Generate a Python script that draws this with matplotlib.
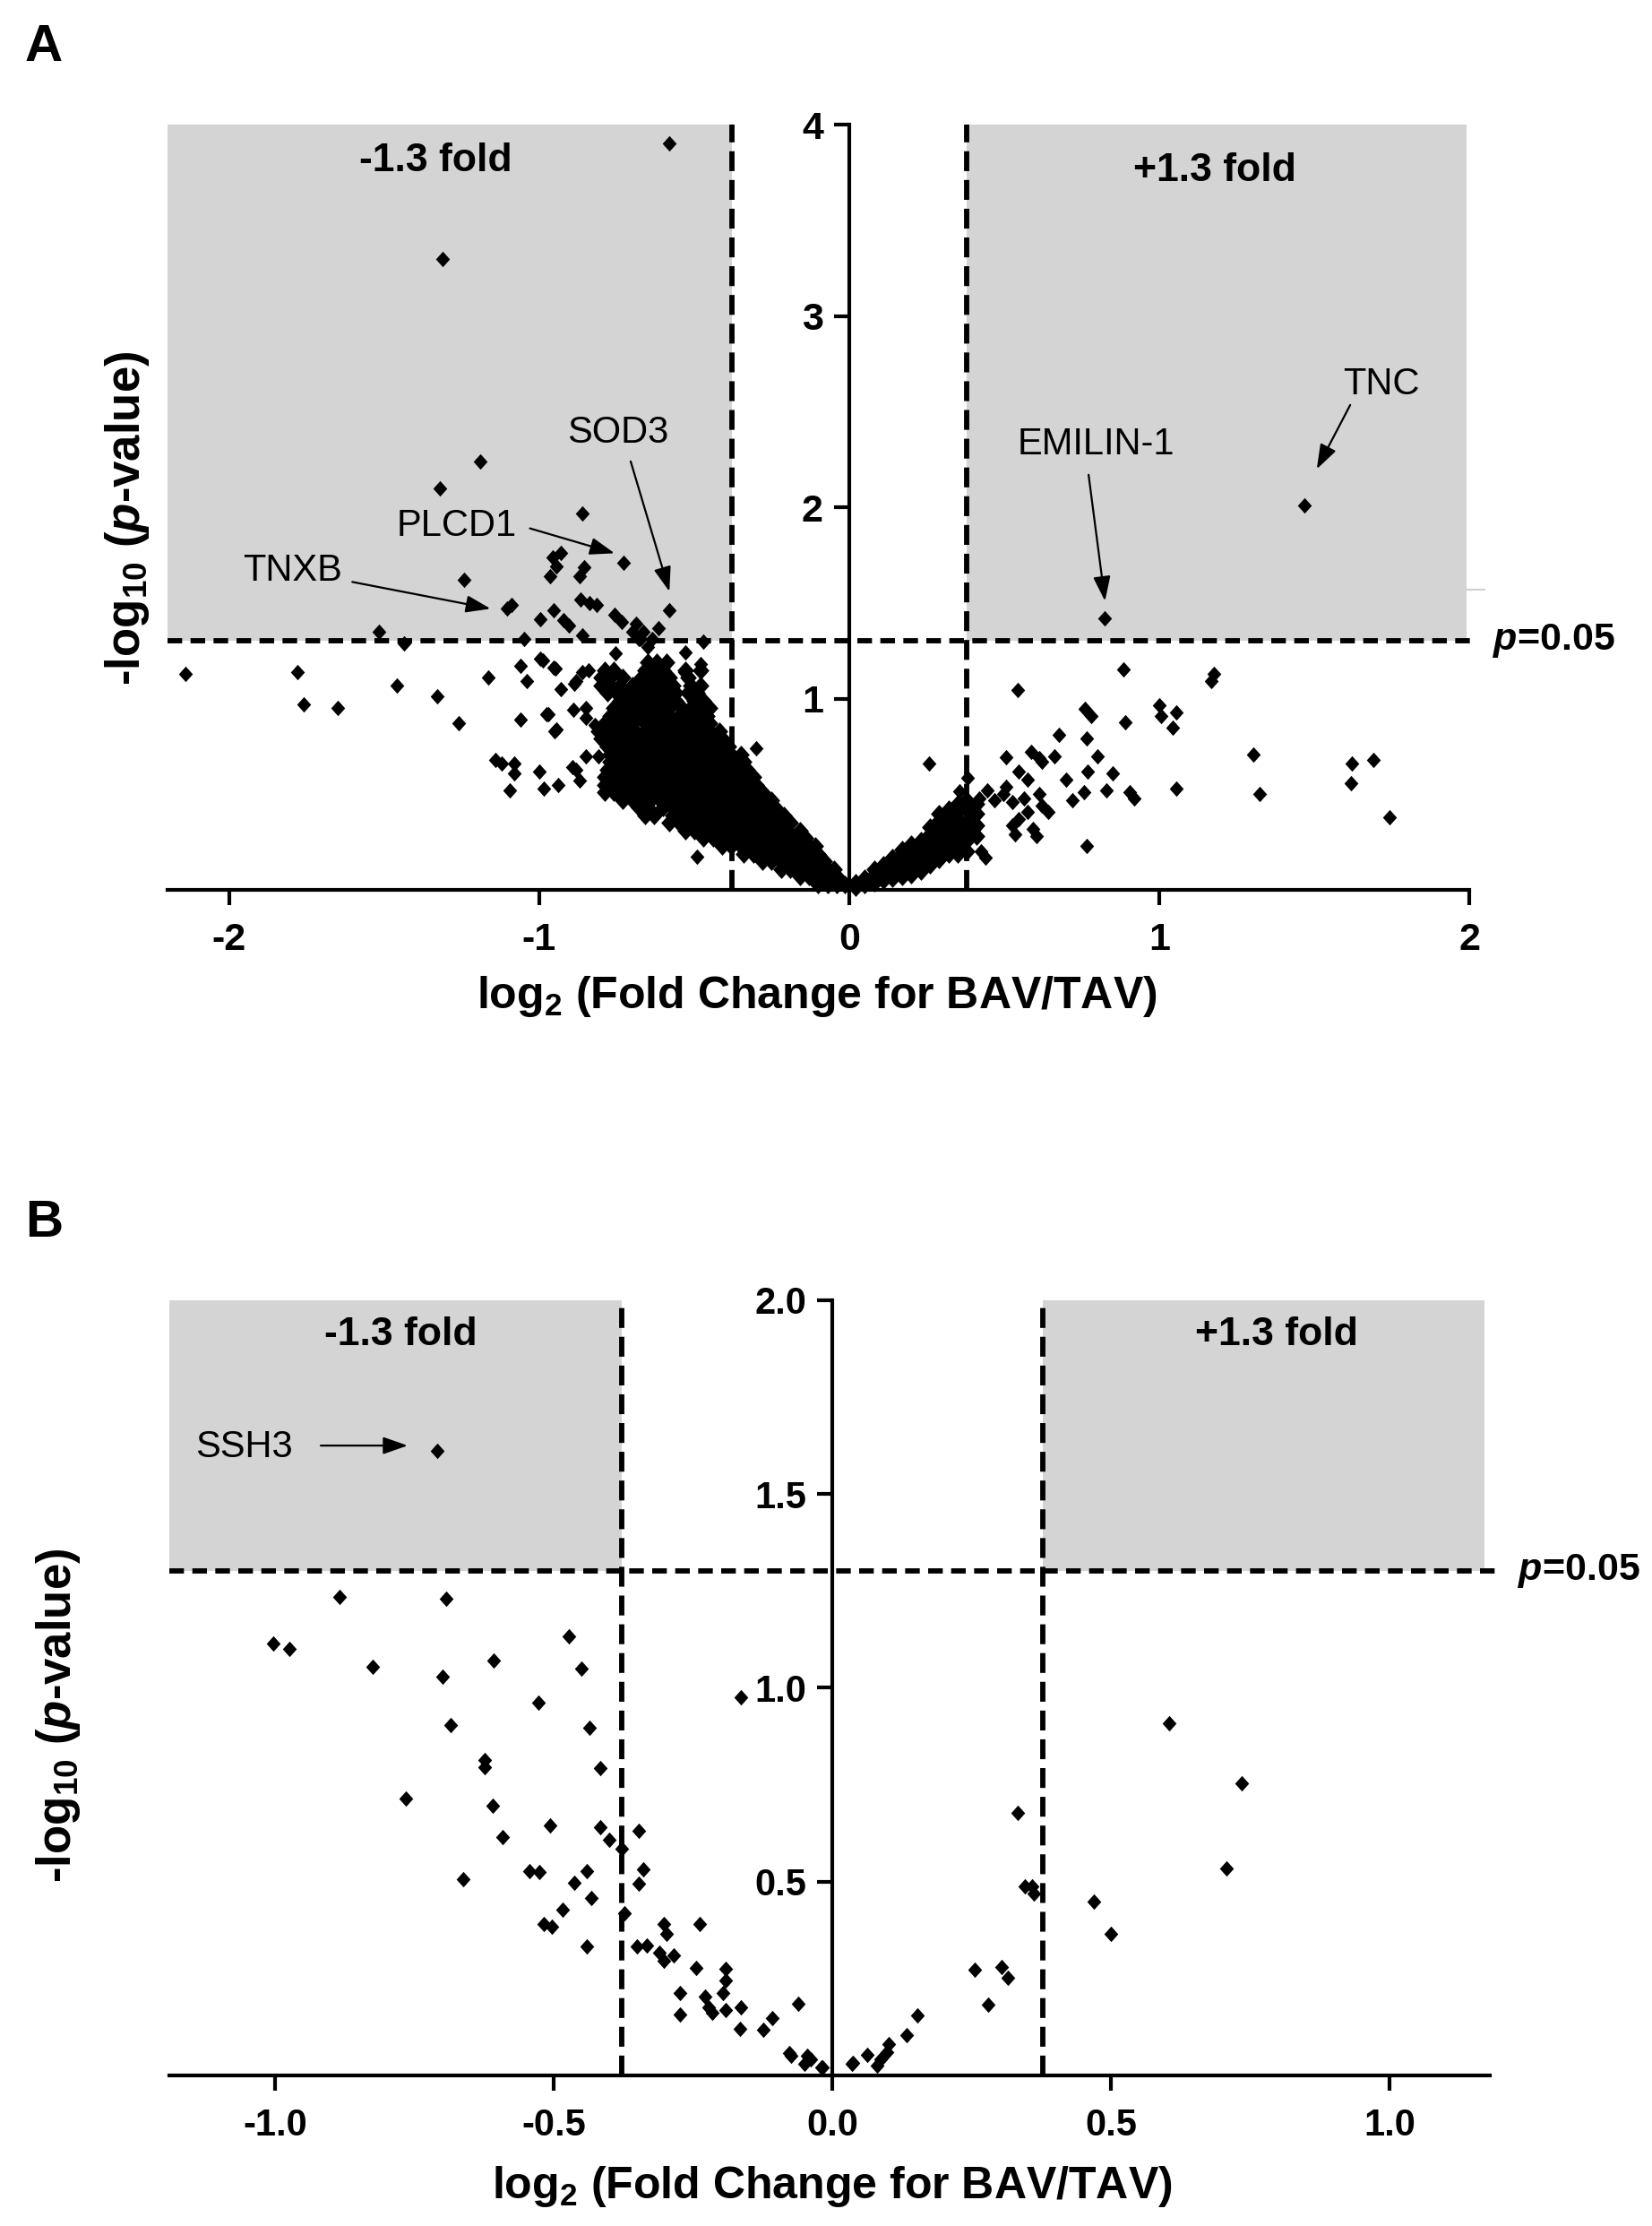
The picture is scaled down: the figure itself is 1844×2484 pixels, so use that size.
"""
Volcano plots of BAV vs TAV proteins (panels A and B)
"""
import numpy as np
import matplotlib.pyplot as plt
from matplotlib.path import Path
from matplotlib.patches import Rectangle

plt.rcParams['font.family'] = ['Liberation Sans', 'DejaVu Sans']
plt.rcParams['mathtext.fontset'] = 'custom'
plt.rcParams['mathtext.rm'] = 'Liberation Sans'
plt.rcParams['mathtext.bf'] = 'Liberation Sans:bold'
plt.rcParams['mathtext.it'] = 'Liberation Sans:italic'
plt.rcParams['mathtext.bfit'] = 'Liberation Sans:italic:bold'

FOLD = 0.378      # log2(1.3)
PCUT = 1.301      # -log10(0.05)

# ---------------- Panel A data (log2 FC, -log10 p) ----------------
# proteins above the p=0.05 line
a_sig_x = [-0.582, -1.313, -1.190, -1.319, -0.860, -0.728, -0.957, -0.930, -0.965, -0.946,
           -0.854, -0.871, -1.243, -1.105, -1.088, -0.866, -0.837, -0.814, -0.580, -0.997,
           -0.953, -0.922, -0.905, -0.757, -0.734, -0.688, -0.700, -0.665, -0.614, -0.860,
           -1.517, -1.437, -1.050, -0.680, -0.471, -0.674, -0.635, -0.650, 0.825, 1.468]
a_sig_y = [3.90, 3.30, 2.24, 2.10, 1.97, 1.71, 1.74, 1.76, 1.64, 1.69,
           1.685, 1.64, 1.62, 1.47, 1.49, 1.52, 1.50, 1.49, 1.46, 1.415,
           1.46, 1.41, 1.38, 1.44, 1.40, 1.39, 1.35, 1.35, 1.37, 1.33,
           1.35, 1.29, 1.31, 1.31, 1.30, 1.31, 1.31, 1.27, 1.42, 2.01]

# scattered proteins, negative side
a_left_x = [-2.14, -1.78, -1.76, -1.65, -1.46, -1.33, -1.26, -1.165, -1.06, -1.04,
            -0.997, -0.953, -1.06, -0.97, -0.944, -0.93, -0.887, -0.84, -0.85, -1.14,
            -1.12, -1.08, -1.08, -1.095, -1.00, -0.985, -0.94, -0.894, -0.87, -0.85,
            -0.81, -0.49, -0.30, -0.528, -0.48, -0.532, -0.987, -0.948, -0.862, -0.88,
            -0.79, -0.977, -0.95, -0.89, -0.85, -0.82, -0.88, -0.755]
a_left_y = [1.13, 1.14, 0.97, 0.95, 1.07, 1.01, 0.87, 1.11, 1.17, 1.09,
            1.21, 1.16, 0.89, 0.92, 0.84, 1.05, 1.08, 1.15, 0.95, 0.68,
            0.66, 0.66, 0.61, 0.52, 0.62, 0.53, 0.55, 0.64, 0.57, 0.70,
            0.70, 0.175, 0.74, 1.24, 1.18, 1.14, 1.20, 1.156, 1.14, 1.09,
            1.12, 0.92, 0.83, 0.94, 0.90, 0.86, 0.63, 1.235]

# scattered proteins, positive side
a_right_x = [0.883, 1.177, 1.167, 0.542, 0.760, 0.780, 1.000, 1.005, 1.055, 1.044,
             0.890, 0.676, 0.766, 1.303, 1.620, 1.692, 1.617, 1.325, 1.743, 0.256,
             0.507, 0.588, 0.612, 0.622, 0.661, 0.800, 0.768, 0.850, 0.700, 0.757,
             0.720, 0.830, 0.906, 0.920, 1.055, 0.765, 0.545, 0.574, 0.444, 0.420,
             0.468, 0.507, 0.497, 0.526, 0.565, 0.612, 0.622, 0.641, 0.574, 0.545,
             0.526, 0.536, 0.593, 0.603, 0.425, 0.439, 0.383, 0.357]
a_right_y = [1.155, 1.13, 1.09, 1.044, 0.948, 0.91, 0.967, 0.91, 0.93, 0.85,
             0.877, 0.81, 0.79, 0.706, 0.66, 0.68, 0.557, 0.50, 0.38, 0.663,
             0.695, 0.72, 0.69, 0.67, 0.70, 0.70, 0.62, 0.61, 0.575, 0.51,
             0.47, 0.52, 0.51, 0.48, 0.53, 0.23, 0.617, 0.578, 0.52, 0.48,
             0.47, 0.54, 0.50, 0.46, 0.48, 0.50, 0.44, 0.41, 0.41, 0.37,
             0.34, 0.29, 0.32, 0.28, 0.20, 0.17, 0.585, 0.515]

# dense cloud on the negative side: rows of (-log10 p, [log2 FC ...])
a_blob_rows = [
    (0.03, [-0.10, -0.07, -0.04, -0.015]),
    (0.07, [-0.16, -0.13, -0.10, -0.07, -0.04]),
    (0.11, [-0.22, -0.19, -0.16, -0.13, -0.10, -0.07, -0.05]),
    (0.15, [-0.28, -0.25, -0.22, -0.19, -0.16, -0.13, -0.10, -0.08]),
    (0.19, [-0.34, -0.31, -0.28, -0.25, -0.22, -0.19, -0.16, -0.13, -0.10]),
    (0.23, [-0.41, -0.38, -0.35, -0.32, -0.29, -0.26, -0.23, -0.20, -0.17, -0.13, -0.11]),
    (0.27, [-0.47, -0.44, -0.41, -0.38, -0.35, -0.32, -0.29, -0.26, -0.23, -0.20, -0.17, -0.14]),
    (0.31, [-0.53, -0.50, -0.47, -0.44, -0.41, -0.38, -0.35, -0.32, -0.29, -0.26, -0.23, -0.20, -0.16]),
    (0.35, [-0.58, -0.55, -0.52, -0.49, -0.46, -0.43, -0.40, -0.37, -0.34, -0.31, -0.28, -0.25, -0.22, -0.19]),
    (0.39, [-0.66, -0.63, -0.57, -0.54, -0.51, -0.48, -0.45, -0.42, -0.39, -0.36, -0.33, -0.30, -0.27, -0.24, -0.21]),
    (0.43, [-0.68, -0.65, -0.60, -0.57, -0.54, -0.51, -0.48, -0.45, -0.42, -0.39, -0.36, -0.33, -0.30, -0.27, -0.24]),
    (0.47, [-0.73, -0.70, -0.67, -0.64, -0.61, -0.58, -0.55, -0.52, -0.49, -0.46, -0.43, -0.40, -0.37, -0.34, -0.31, -0.28, -0.25]),
    (0.51, [-0.79, -0.76, -0.73, -0.70, -0.67, -0.64, -0.61, -0.58, -0.55, -0.52, -0.49, -0.46, -0.43, -0.40, -0.37, -0.34, -0.31, -0.28]),
    (0.55, [-0.79, -0.76, -0.72, -0.69, -0.66, -0.63, -0.60, -0.57, -0.54, -0.51, -0.48, -0.45, -0.42, -0.39, -0.36, -0.33, -0.30]),
    (0.59, [-0.79, -0.76, -0.73, -0.70, -0.67, -0.64, -0.61, -0.58, -0.55, -0.52, -0.49, -0.46, -0.43, -0.40, -0.37, -0.34, -0.31]),
    (0.63, [-0.78, -0.75, -0.72, -0.69, -0.66, -0.63, -0.60, -0.57, -0.54, -0.51, -0.48, -0.45, -0.42, -0.39, -0.36, -0.33]),
    (0.67, [-0.77, -0.73, -0.70, -0.67, -0.64, -0.61, -0.58, -0.55, -0.52, -0.49, -0.46, -0.43, -0.40, -0.37, -0.34]),
    (0.71, [-0.77, -0.74, -0.71, -0.68, -0.65, -0.62, -0.59, -0.56, -0.53, -0.50, -0.47, -0.44, -0.41, -0.38, -0.35]),
    (0.75, [-0.78, -0.75, -0.72, -0.69, -0.66, -0.63, -0.60, -0.57, -0.54, -0.51, -0.48, -0.45, -0.42, -0.39]),
    (0.79, [-0.80, -0.77, -0.74, -0.71, -0.68, -0.65, -0.62, -0.59, -0.56, -0.53, -0.50, -0.47, -0.44, -0.41]),
    (0.83, [-0.81, -0.78, -0.75, -0.72, -0.69, -0.66, -0.63, -0.60, -0.57, -0.54, -0.51, -0.48, -0.45, -0.42]),
    (0.87, [-0.79, -0.76, -0.73, -0.70, -0.66, -0.63, -0.60, -0.57, -0.54, -0.51, -0.48, -0.45]),
    (0.91, [-0.77, -0.74, -0.71, -0.68, -0.65, -0.62, -0.58, -0.55, -0.52, -0.49, -0.46]),
    (0.95, [-0.76, -0.73, -0.70, -0.67, -0.64, -0.61, -0.58, -0.54, -0.51, -0.48, -0.45]),
    (0.99, [-0.74, -0.71, -0.68, -0.65, -0.62, -0.59, -0.56, -0.50, -0.47]),
    (1.03, [-0.78, -0.75, -0.72, -0.69, -0.65, -0.62, -0.59, -0.56, -0.52, -0.49]),
    (1.07, [-0.80, -0.77, -0.74, -0.70, -0.66, -0.63, -0.60, -0.57, -0.51, -0.48]),
    (1.11, [-0.80, -0.77, -0.73, -0.67, -0.64, -0.61, -0.58, -0.52]),
    (1.15, [-0.79, -0.76, -0.66, -0.63, -0.60, -0.53, -0.48]),
    (1.19, [-0.65, -0.62, -0.59]),
]

# dense band on the positive side: columns of (log2 FC, [-log10 p ...])
a_band_cols = [
    (0.02, [0.015, 0.04]),
    (0.05, [0.03, 0.06]),
    (0.08, [0.04, 0.08, 0.11]),
    (0.11, [0.05, 0.09, 0.13]),
    (0.14, [0.06, 0.10, 0.14, 0.17]),
    (0.17, [0.07, 0.11, 0.15, 0.19, 0.21]),
    (0.20, [0.08, 0.12, 0.16, 0.20, 0.24]),
    (0.23, [0.10, 0.14, 0.18, 0.22, 0.26]),
    (0.26, [0.13, 0.17, 0.21, 0.25, 0.29, 0.33]),
    (0.29, [0.16, 0.20, 0.24, 0.28, 0.32, 0.36, 0.40]),
    (0.32, [0.19, 0.23, 0.27, 0.31, 0.35, 0.39, 0.42]),
    (0.35, [0.19, 0.24, 0.28, 0.33, 0.37, 0.41, 0.45]),
    (0.38, [0.20, 0.26, 0.31, 0.36, 0.42, 0.47]),
    (0.41, [0.28, 0.34, 0.40, 0.45]),
]

# ---------------- Panel B data ----------------
b_x = [-0.709, -0.885, -0.693, -1.003, -0.975, -0.473, -0.824, -0.607, -0.700, -0.450,
       -0.527, -0.164, -0.685, -0.435, -0.624, -0.624, -0.417, -0.766, -0.610, -0.506,
       -0.417, -0.347, -0.592, -0.400, -0.378, -0.340, -0.347, -0.662, -0.543, -0.525,
       -0.440, -0.463, -0.432, -0.484, -0.517, -0.504, -0.373, -0.441, -0.351, -0.333,
       -0.303, -0.297, -0.238, -0.310, -0.285, -0.303, -0.244, -0.192, -0.192, -0.196,
       -0.274, -0.229, -0.274, -0.222, -0.215, -0.192, -0.164, -0.165, -0.124, -0.108,
       -0.061, -0.078, -0.074, -0.045, -0.050, -0.019, 0.036, -0.039, -0.017,
       0.604, 0.734, 0.708, 0.332, 0.345, 0.359, 0.361, 0.470, 0.500, 0.256,
       0.304, 0.315, 0.280, 0.153, 0.134, 0.101, 0.098, 0.086, 0.080, 0.063, 0.037]
b_y = [1.612, 1.234, 1.230, 1.115, 1.100, 1.134, 1.055, 1.071, 1.030, 1.050,
       0.961, 0.975, 0.903, 0.897, 0.814, 0.795, 0.792, 0.714, 0.697, 0.645,
       0.640, 0.631, 0.615, 0.608, 0.585, 0.533, 0.494, 0.507, 0.527, 0.526,
       0.527, 0.497, 0.458, 0.428, 0.391, 0.385, 0.418, 0.332, 0.332, 0.336,
       0.391, 0.365, 0.391, 0.318, 0.310, 0.296, 0.277, 0.275, 0.245, 0.213,
       0.213, 0.204, 0.158, 0.176, 0.163, 0.168, 0.176, 0.121, 0.117, 0.147,
       0.184, 0.058, 0.050, 0.050, 0.030, 0.020, 0.030, 0.042, 0.020,
       0.908, 0.754, 0.534, 0.678, 0.488, 0.488, 0.470, 0.449, 0.365, 0.272,
       0.280, 0.253, 0.182, 0.154, 0.105, 0.080, 0.060, 0.042, 0.025, 0.054, 0.033]

# ---------------- helpers ----------------
diamond = Path([(0, 1), (0.9, 0), (0, -1), (-0.9, 0), (0, 1)],
               [Path.MOVETO, Path.LINETO, Path.LINETO, Path.LINETO, Path.CLOSEPOLY])


def dots(ax, x, y, size=12.5):
    ax.plot(x, y, ls='none', marker=diamond, ms=size, color='black', mew=0,
            zorder=4, clip_on=False)


def frame(ax, xlim, ylim, xticks, xlabels, yticks, ylabels, tsize):
    ax.set_xlim(xlim)
    ax.set_ylim(ylim)
    ax.patch.set_alpha(0)
    ax.spines['top'].set_visible(False)
    ax.spines['right'].set_visible(False)
    ax.spines['left'].set_position(('data', 0))
    for s in ('left', 'bottom'):
        ax.spines[s].set_linewidth(3)
        ax.spines[s].set_zorder(5)
    ax.set_xticks(xticks)
    ax.set_xticklabels(xlabels, fontweight='bold')
    ax.set_yticks(yticks)
    ax.set_yticklabels(ylabels, fontweight='bold')
    ax.tick_params(direction='out', length=12, width=3, labelsize=tsize, pad=9)
    ax.tick_params(axis='x', pad=14)


def guides(ax, x0, x1, ytop, xline_end, grey_right):
    ax.add_patch(Rectangle((x0, PCUT), -FOLD - x0, ytop - PCUT, color='#d4d4d4', lw=0, zorder=0))
    ax.add_patch(Rectangle((FOLD, PCUT), grey_right - FOLD, ytop - PCUT, color='#d4d4d4', lw=0, zorder=0))
    ax.plot([x0, xline_end], [PCUT, PCUT], color='black', lw=4.2, ls=(0, (2.8, 1.6)),
            zorder=2, clip_on=False)
    for xv in (-FOLD, FOLD):
        ax.plot([xv, xv], [0, ytop], color='black', lw=4.2, ls=(0, (3.8, 1.7)), zorder=2)


def arrow(ax, start, tip):
    ax.annotate('', xy=tip, xytext=start,
                arrowprops=dict(arrowstyle='-|>,head_length=0.4,head_width=0.14',
                                lw=1.6, color='black', shrinkA=0, shrinkB=0,
                                mutation_scale=42), zorder=6)


fig = plt.figure(figsize=(18.44, 24.84), dpi=100)
fig.patch.set_facecolor('white')

# ---------------- Panel A ----------------
ax1 = fig.add_axes([0.1012, 0.6002, 0.7882, 0.3438])
guides(ax1, -2.2, 2.0, 4.0, 2.02, 1.99)
ax1.plot([1.99, 2.05], [1.57, 1.57], color='#d0d0d0', lw=1.5, clip_on=False)

blob_x = [x for y, xs in a_blob_rows for x in xs]
blob_y = [y for y, xs in a_blob_rows for x in xs]
band_x = [x for x, ys in a_band_cols for y in ys]
band_y = [y for x, ys in a_band_cols for y in ys]
# overlapping markers in the crowded cloud merge into one solid mass
dots(ax1, blob_x, blob_y, 15)
dots(ax1, band_x, band_y, 15)
dots(ax1, a_left_x, a_left_y)
dots(ax1, a_right_x, a_right_y)
dots(ax1, a_sig_x, a_sig_y)

frame(ax1, (-2.2, 2.0), (0, 4), [-2, -1, 0, 1, 2], ['-2', '-1', '0', '1', '2'],
      [1, 2, 3, 4], ['1', '2', '3', '4'], 31)

ax1.text(-1.335, 3.81, '-1.3 fold', ha='center', va='center', fontsize=32, fontweight='bold')
ax1.text(1.18, 3.76, '+1.3 fold', ha='center', va='center', fontsize=32, fontweight='bold')
ax1.text(2.075, PCUT, r'$\mathbfit{p}$=0.05', ha='left', va='center', fontsize=31,
         fontweight='bold', clip_on=False)

ax1.text(-0.747, 2.39, 'SOD3', ha='center', va='center', fontsize=30)
arrow(ax1, (-0.705, 2.24), (-0.58, 1.56))
ax1.text(-1.266, 1.90, 'PLCD1', ha='center', va='center', fontsize=30)
arrow(ax1, (-1.03, 1.89), (-0.757, 1.76))
ax1.text(-1.796, 1.667, 'TNXB', ha='center', va='center', fontsize=30)
arrow(ax1, (-1.603, 1.61), (-1.157, 1.47))
ax1.text(1.717, 2.64, 'TNC', ha='center', va='center', fontsize=30)
arrow(ax1, (1.616, 2.535), (1.508, 2.20))
ax1.text(0.796, 2.33, 'EMILIN-1', ha='center', va='center', fontsize=30)
arrow(ax1, (0.772, 2.17), (0.825, 1.51))

# ---------------- Panel B ----------------
ax2 = fig.add_axes([0.1024, 0.0676, 0.7995, 0.3483])
guides(ax2, -1.19, 1.18, 2.0, 1.19, 1.17)
dots(ax2, b_x, b_y)

frame(ax2, (-1.19, 1.18), (0, 2), [-1.0, -0.5, 0.0, 0.5, 1.0],
      ['-1.0', '-0.5', '0.0', '0.5', '1.0'], [0.5, 1.0, 1.5, 2.0],
      ['0.5', '1.0', '1.5', '2.0'], 30)

ax2.text(-0.775, 1.91, '-1.3 fold', ha='center', va='center', fontsize=32, fontweight='bold')
ax2.text(0.797, 1.91, '+1.3 fold', ha='center', va='center', fontsize=32, fontweight='bold')
ax2.text(1.23, PCUT, r'$\mathbfit{p}$=0.05', ha='left', va='center', fontsize=31,
         fontweight='bold', clip_on=False)
ax2.text(-1.056, 1.62, 'SSH3', ha='center', va='center', fontsize=30)
arrow(ax2, (-0.918, 1.625), (-0.762, 1.625))

# ---------------- axis titles and panel letters ----------------
ylab = r'-log$_{\mathbf{10}}$ ($\mathbfit{p}$-value)'
xlab = r'log$_{\mathbf{2}}$ (Fold Change for BAV/TAV)'
fig.text(0.077, 1 - 578 / 2484, ylab, rotation=90, ha='center', va='center',
         fontsize=38, fontweight='bold')
fig.text(0.035, 1 - 1914 / 2484, ylab, rotation=90, ha='center', va='center',
         fontsize=38, fontweight='bold')
fig.text(912 / 1844, 1 - 1112 / 2484, xlab, ha='center', va='center',
         fontsize=36, fontweight='bold')
fig.text(929 / 1844, 1 - 2440 / 2484, xlab, ha='center', va='center',
         fontsize=36, fontweight='bold')
fig.text(28 / 1844, 1 - 68 / 2484, 'A', ha='left', va='baseline', fontsize=42, fontweight='bold')
fig.text(28 / 1844, 1 - 1380 / 2484, 'B', ha='left', va='baseline', fontsize=42, fontweight='bold')

fig.savefig('out.png', dpi=100, facecolor='white')
plt.close(fig)
